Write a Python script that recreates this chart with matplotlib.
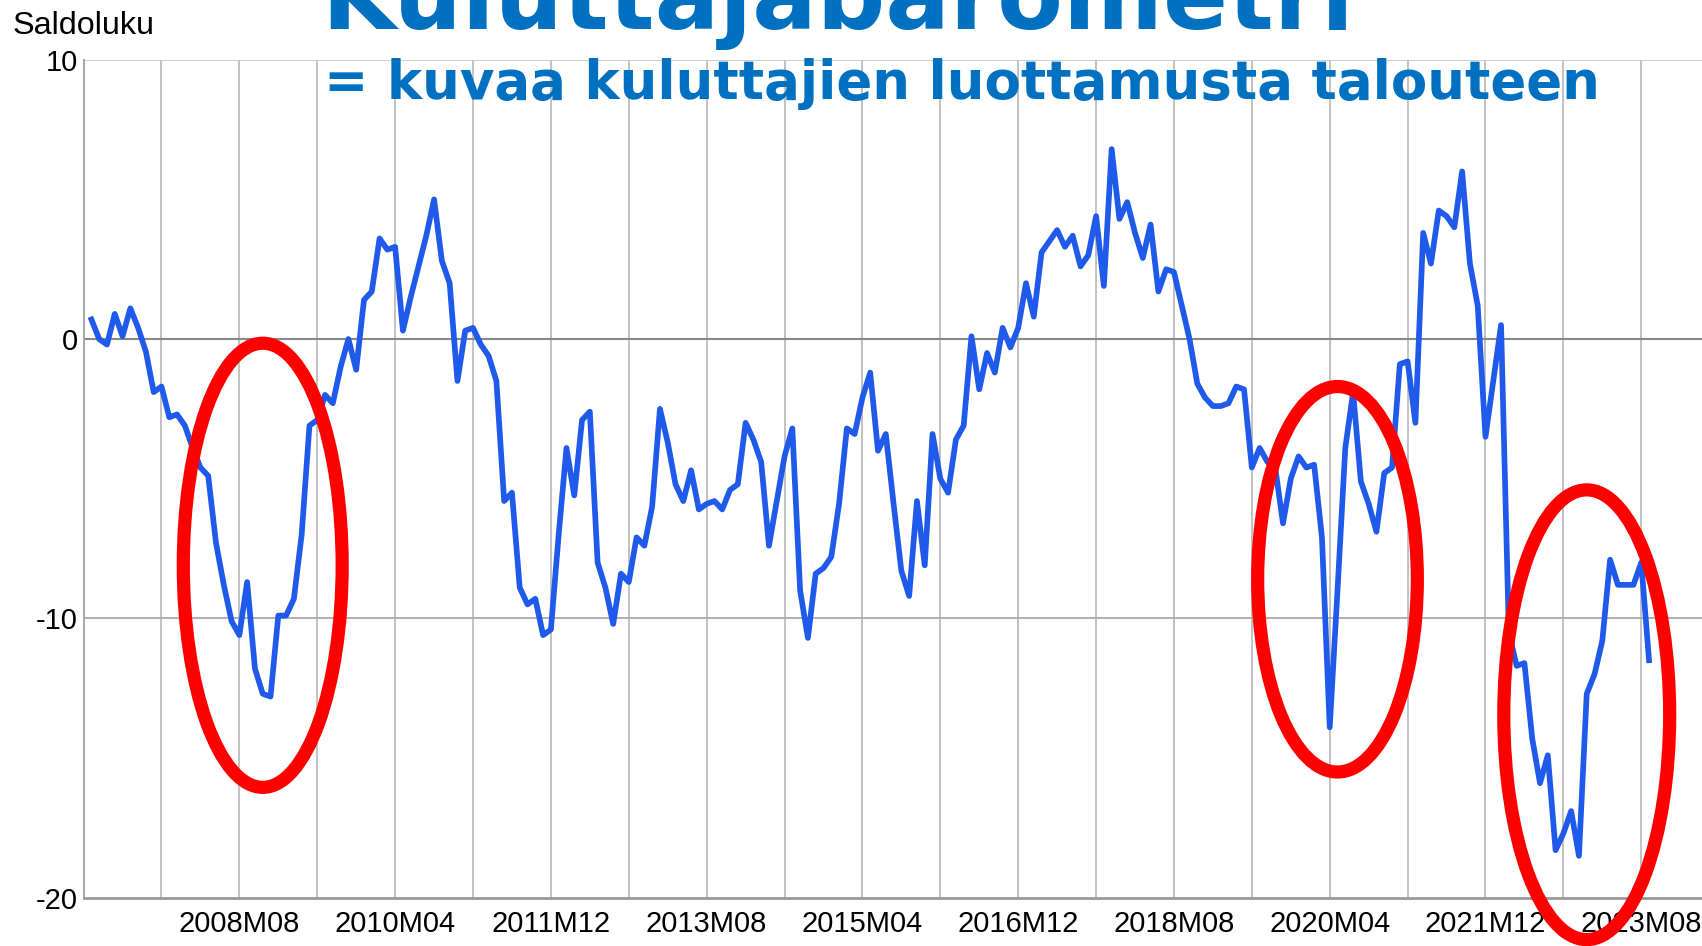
import matplotlib
matplotlib.use("Agg")
import matplotlib.pyplot as plt
from matplotlib.patches import Ellipse
import numpy as np

plt.rcParams["axes.unicode_minus"] = False

# Kuluttajien luottamus, saldoluku kuukausittain 2007M01 ->
saldoluku = [
    0.7, 0.0, -0.2, 0.9, 0.1, 1.1, 0.4, -0.45, -1.9, -1.7,
    -2.8, -2.7, -3.1, -3.9, -4.6, -4.9, -7.3, -8.8, -10.1, -10.6,
    -8.7, -11.8, -12.7, -12.8, -9.9, -9.9, -9.3, -7.0, -3.1, -2.9,
    -2.0, -2.3, -1.0, 0.0, -1.1, 1.4, 1.7, 3.6, 3.2, 3.3,
    0.3, 1.5, 2.6, 3.7, 5.0, 2.8, 2.0, -1.5, 0.3, 0.4,
    -0.2, -0.6, -1.5, -5.8, -5.5, -8.9, -9.5, -9.3, -10.6, -10.4,
    -7.0, -3.9, -5.6, -2.9, -2.6, -8.0, -8.9, -10.2, -8.4, -8.7,
    -7.1, -7.4, -6.0, -2.5, -3.7, -5.2, -5.8, -4.7, -6.1, -5.9,
    -5.8, -6.1, -5.4, -5.2, -3.0, -3.6, -4.4, -7.4, -5.8, -4.2,
    -3.2, -9.0, -10.7, -8.4, -8.2, -7.8, -5.9, -3.2, -3.4, -2.1,
    -1.2, -4.0, -3.4, -5.9, -8.3, -9.2, -5.8, -8.1, -3.4, -5.0,
    -5.5, -3.6, -3.1, 0.1, -1.8, -0.5, -1.2, 0.4, -0.3, 0.4,
    2.0, 0.8, 3.1, 3.5, 3.9, 3.3, 3.7, 2.6, 3.0, 4.4,
    1.9, 6.8, 4.3, 4.9, 3.8, 2.9, 4.1, 1.7, 2.5, 2.4,
    1.2, 0.0, -1.6, -2.1, -2.4, -2.4, -2.3, -1.7, -1.8, -4.6,
    -3.9, -4.4, -4.6, -6.6, -5.0, -4.2, -4.6, -4.5, -7.1, -13.9,
    -9.0, -3.9, -1.9, -5.1, -5.9, -6.9, -4.8, -4.6, -0.9, -0.8,
    -3.0, 3.8, 2.7, 4.6, 4.4, 4.0, 6.0, 2.7, 1.2, -3.5,
    -1.5, 0.5, -10.5, -11.7, -11.6, -14.3, -15.9, -14.9, -18.3, -17.7,
    -16.9, -18.5, -12.7, -12.0, -10.8, -7.9, -8.8, -8.8, -8.8, -8.0,
    -11.5,
]
months = [f"{2007 + k // 12}M{k % 12 + 1:02d}" for k in range(len(saldoluku))]
tick_labels = ["2008M08", "2010M04", "2011M12", "2013M08", "2015M04",
               "2016M12", "2018M08", "2020M04", "2021M12", "2023M08"]
y_ticks = [-20, -10, 0, 10]
y_tick_labels = ["-20", "-10", "0", "10"]

# korostetut jaksot: keskikohta (kuukausi), y-keskikohta, leveys, korkeus
circles_month = ["2008M11", "2020M05", "2023M01"]
circles_y = [-8.1, -8.6, -13.45]
circles_w = [20.4, 20.5, 21.3]
circles_h = [15.9, 13.8, 16.1]

W, H = 1702, 946
fig = plt.figure(figsize=(W / 100, H / 100), dpi=100)
left = 83.6 / W
bottom = (H - 897.7) / H
ax = fig.add_axes([left, bottom, 1 - left, (897.7 - 59.7) / H])

x = np.arange(len(saldoluku))
ax.plot(x, saldoluku, color="#1f5aeb", lw=4.1, solid_joinstyle="round", zorder=3)

major = [months.index(m) for m in tick_labels]
minor = [p - 10 for p in major]
ax.set_xticks(major)
ax.set_xticklabels(tick_labels)
ax.set_xticks(minor, minor=True)
ax.set_xlim(-1, 206.8)
ax.set_ylim(-20, 10)
ax.set_yticks(y_ticks)
ax.set_yticklabels(y_tick_labels)

for p in major + minor:
    ax.axvline(p, color="#b8b8b8", lw=1.2, zorder=1)
ax.axhline(10, color="#c4c4c4", lw=1.2, zorder=1)
ax.axhline(-10, color="#aaaaaa", lw=1.3, zorder=1)
ax.axhline(0, color="#888888", lw=1.5, zorder=1)

for s in ["top", "right"]:
    ax.spines[s].set_visible(False)
ax.spines["left"].set_color("#aaaaaa")
ax.spines["left"].set_linewidth(1.5)
ax.spines["bottom"].set_color("#999999")
ax.spines["bottom"].set_linewidth(2)

ax.tick_params(axis="both", which="both", length=0, labelsize=21)
ax.tick_params(axis="x", pad=9)
ax.tick_params(axis="y", pad=4)
for t in ax.get_xticklabels() + ax.get_yticklabels():
    t.set_family("Liberation Sans")

for m, cy, w, h in zip(circles_month, circles_y, circles_w, circles_h):
    e = Ellipse((months.index(m), cy), w, h, fill=False, ec="#ff0000", lw=9.5,
                zorder=6, clip_on=False)
    ax.add_patch(e)

fig.text(13 / W, 1 - 26 / H, "Saldoluku", fontsize=23.3, family="Liberation Sans",
         va="center", ha="left")
fig.text(321 / W, 1 - 29.5 / H, "Kuluttajabarometri", fontsize=69, fontweight="bold",
         color="#0070c0", family="DejaVu Sans", va="baseline", ha="left")
fig.text(324 / W, 1 - 99 / H, "= kuvaa kuluttajien luottamusta talouteen",
         fontsize=38.2, fontweight="bold", color="#0070c0", family="DejaVu Sans",
         va="baseline", ha="left")

fig.savefig("out.png", dpi=100)
